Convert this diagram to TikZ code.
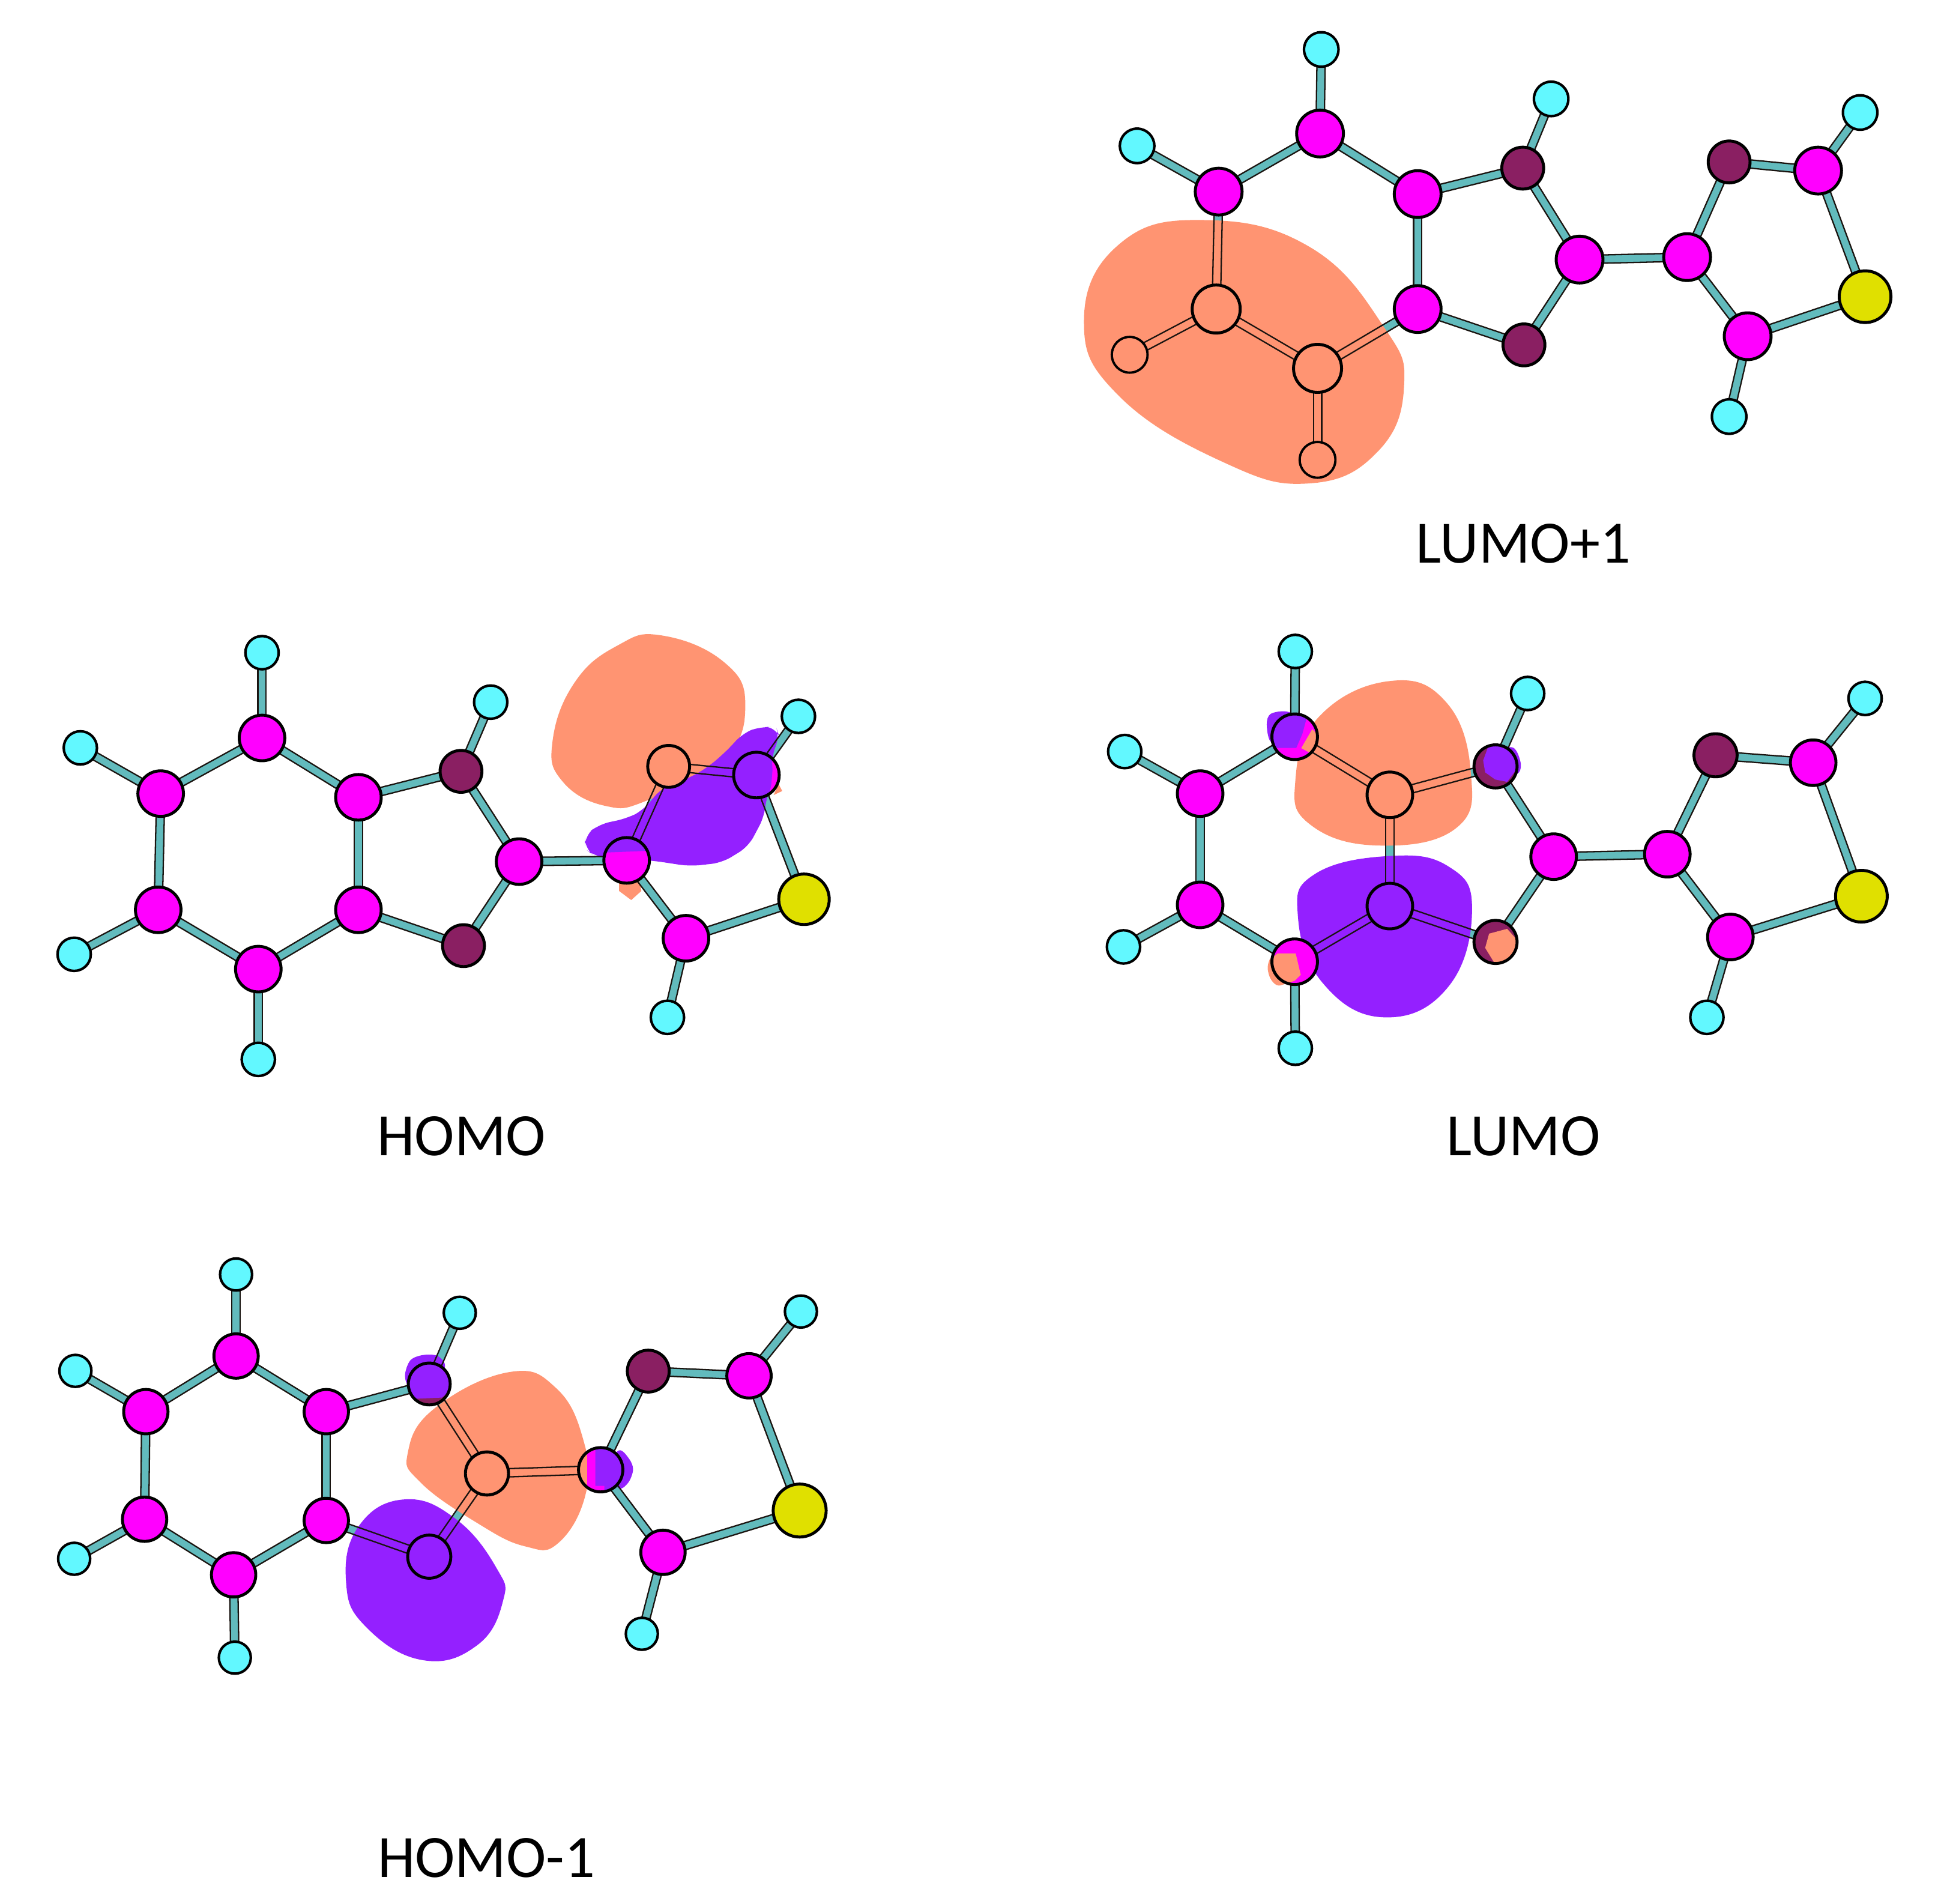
\documentclass[tikz,border=0pt]{standalone}
\usepackage{fontspec}
\setmainfont{Carlito}
\usetikzlibrary{calc}
\definecolor{Mag}{HTML}{FF00FF}
\definecolor{Hyd}{HTML}{62F8FF}
\definecolor{Drk}{HTML}{8A1F62}
\definecolor{Yel}{HTML}{E0E000}
\definecolor{Tea}{HTML}{62BBBD}
\definecolor{Org}{HTML}{FF9472}
\definecolor{Pur}{HTML}{9420FF}
\definecolor{Edg}{HTML}{1A1410}
\pgfdeclarelayer{bondlayer}
\pgfdeclarelayer{orblayer}
\pgfdeclarelayer{edgelayer}
\pgfsetlayers{bondlayer,orblayer,edgelayer,main}
\def\ux{0.58358pt}
\def\rC{18}\def\rH{13}\def\rD{17}\def\rS{21}\def\rE{18}
\tikzset{
  atomb/.style={circle,draw=black,line width=1.4pt,inner sep=0pt,outer sep=0pt},
  atmC/.style={atomb,fill=Mag,minimum size=2*\rC*\ux},
  atmH/.style={atomb,fill=Hyd,line width=1.2pt,minimum size=2*\rH*\ux},
  atmD/.style={atomb,fill=Drk,minimum size=2*\rD*\ux},
  atmS/.style={atomb,fill=Yel,minimum size=2*\rS*\ux},
  atmO/.style={atomb,fill=Org,minimum size=2*\rE*\ux},
  atmP/.style={atomb,fill=Pur,minimum size=2*\rE*\ux},
  atmHO/.style={atomb,fill=Org,line width=1.1pt,minimum size=2*\rH*\ux},
  bondfill/.style={Tea,line width=3.9pt},
  bondedge/.style={Edg,line width=0.65pt},
  lab/.style={font=\fontsize{28.5pt}{30pt}\selectfont,inner sep=0pt,text=black},
  blob/.style={smooth cycle,tension=0.55},
  lobe/.style={smooth cycle,tension=0.75}
}
\newcommand\bond[2]{%
  \begin{pgfonlayer}{bondlayer}\draw[bondfill] (#1.center)--(#2.center);\end{pgfonlayer}%
  \begin{pgfonlayer}{edgelayer}%
    \draw[bondedge] ($(#1.center)!1.95pt!90:(#2.center)$)--($(#2.center)!1.95pt!-90:(#1.center)$);%
    \draw[bondedge] ($(#1.center)!1.95pt!-90:(#2.center)$)--($(#2.center)!1.95pt!90:(#1.center)$);%
  \end{pgfonlayer}}
\newcommand\patch[2]{\fill[#1,shift={(path picture bounding box.center)}] #2;}
\begin{document}
\begin{tikzpicture}[x=0.020587cm,y=-0.020587cm]
\useasboundingbox (0,0) rectangle (1568,1540.3);

% ---------- LUMO+1 ----------
\def\rC{19}\def\rH{14}\def\rD{17}\def\rS{21}\def\rE{19.5}
\node[atmH] (lpH1) at (1069,40) {};
\node[atmH] (lpH2) at (920,118) {};
\node[atmH] (lpH3) at (1255,80) {};
\node[atmH] (lpH4) at (1505,91) {};
\node[atmH] (lpH5) at (1399,337) {};
\def\rH{14.5}
\node[atmHO] (lpE1) at (914,287) {};
\node[atmHO] (lpE2) at (1066,372) {};
\node[atmC] (lpA) at (1068,108) {};
\node[atmC] (lpB) at (986,155) {};
\node[atmC] (lpC) at (1147,157) {};
\node[atmC] (lpD) at (1147,250) {};
\node[atmO] (lpF) at (984,250) {};
\node[atmO] (lpG) at (1066,298) {};
\node[atmD] (lpP) at (1232,136) {};
\node[atmD] (lpQ) at (1233,279) {};
\node[atmC] (lpR) at (1278,210) {};
\node[atmC] (lpS) at (1365,208) {};
\node[atmC] (lpT) at (1471,138) {};
\node[atmC] (lpU) at (1414,272) {};
\node[atmD] (lpV) at (1399,131) {};
\node[atmS] (lpW) at (1509,240) {};
\foreach \a/\b in {lpH1/lpA,lpH2/lpB,lpA/lpB,lpA/lpC,lpC/lpD,lpB/lpF,lpF/lpE1,lpF/lpG,lpG/lpD,lpG/lpE2,lpC/lpP,lpD/lpQ,lpP/lpR,lpQ/lpR,lpR/lpS,lpS/lpV,lpS/lpU,lpV/lpT,lpT/lpH4,lpT/lpW,lpW/lpU,lpU/lpH5,lpP/lpH3}{\bond{\a}{\b}}
\begin{pgfonlayer}{orblayer}
\fill[Org] plot[lobe] coordinates {(973,178)(1060,200)(1120,265)(1136,312)(1115,365)(1060,391)(990,374)(905,320)(877,260)(905,198)};
\end{pgfonlayer}
\node[lab] (lpLabel) at (1232.5,440) {LUMO+1};

% ---------- HOMO ----------
\def\rC{18.5}\def\rH{13.5}\def\rD{17}\def\rS{20.5}\def\rE{17}
\node[atmH] (hoH1) at (212,528) {};
\node[atmH] (hoH2) at (65,605) {};
\node[atmH] (hoH3) at (397,568) {};
\node[atmH] (hoH4) at (646,579.5) {};
\node[atmH] (hoH5) at (540,823) {};
\node[atmH] (hoH6) at (60,772) {};
\node[atmH] (hoH7) at (209,857) {};
\node[atmC] (hoA) at (212,597) {};
\node[atmC] (hoB) at (130,642) {};
\node[atmC] (hoC) at (290,645) {};
\node[atmC] (hoD) at (128,736) {};
\node[atmC] (hoE) at (290,736) {};
\node[atmC] (hoF) at (209,784) {};
\node[atmD] (hoP) at (373,624) {};
\node[atmD] (hoQ) at (375,765) {};
\node[atmC] (hoR) at (420,697) {};
\node[atmC,path picture={\patch{Pur}{(-25,-25)--(25,-25)--(25,-8)--(-25,-6)--cycle}}] (hoS) at (507,696) {};
\node[atmO] (hoT) at (541,620) {};
\node[atmC,path picture={\patch{Pur}{(-25,-25)--(12,-25)--(13,-4)--(12,8)--(8,25)--(-25,25)--cycle}}] (hoU) at (612,627) {};
\node[atmC] (hoV) at (555,759) {};
\node[atmS] (hoW) at (650.5,727.5) {};
\foreach \a/\b in {hoH1/hoA,hoH2/hoB,hoH6/hoD,hoH7/hoF,hoA/hoB,hoA/hoC,hoB/hoD,hoC/hoE,hoD/hoF,hoE/hoF,hoC/hoP,hoE/hoQ,hoP/hoR,hoQ/hoR,hoP/hoH3,hoR/hoS,hoS/hoT,hoT/hoU,hoU/hoH4,hoU/hoW,hoW/hoV,hoV/hoS,hoV/hoH5}{\bond{\a}{\b}}
\begin{pgfonlayer}{orblayer}
\fill[Org] plot[lobe] coordinates {(535,514)(585,535)(603,570)(585,615)(525,647)(490,652)(455,632)(447,600)(465,552)(500,522)};
\fill[Org] (500.9,714.2)--(500.9,720.8)--(510.7,728.1)--(518.9,720.8)--(517.3,712.6)--cycle;
\fill[Org] (629.9,634.2)--(632.9,639.9)--(625.9,643.2)--cycle;
\fill[Pur,rounded corners=5pt] (615.2,587.7)--(628,588.5)--(631,597)--(624,611)--(627,630)--(620.1,644)--(618.5,660.3)--(605.5,684.8)--(584.2,697.9)--(558.1,700.8)--(528.7,696.3)--(481.3,693)--(473.2,686.5)--(473.2,675.9)--(484.6,666.9)--(507.5,662)--(520.5,655.4)--(535.2,637.5)--(558,629.3)--(574.4,619.5)--(590.7,604.8)--(600.5,593.4)--cycle;
\end{pgfonlayer}
\node[lab] (hoLabel) at (373.5,919) {HOMO};

% ---------- LUMO ----------
\def\rC{18.5}\def\rH{13.5}\def\rD{17.5}\def\rS{21}\def\rE{18.5}
\node[atmH] (luH1) at (1048,527) {};
\node[atmH] (luH2) at (910,608) {};
\node[atmH] (luH3) at (1236,561) {};
\node[atmH] (luH4) at (1509,565) {};
\node[atmH] (luH5) at (1381,823) {};
\node[atmH] (luH6) at (909,766) {};
\node[atmH] (luH7) at (1048,848) {};
\node[atmC,path picture={\patch{Pur}{(-20,-20)--(11,-20)--(6.2,-2.3)--(1.3,9)--(-20,9)--cycle}\patch{Org}{(14.2,-6.1)--(20,-0.4)--(15.9,15)--(5.3,9.2)--cycle}}] (luA) at (1047.5,596) {};
\node[atmC] (luB) at (971,642) {};
\node[atmC] (luC) at (971,732) {};
\node[atmC,path picture={\patch{Org}{(-20,-1.9)--(-13.8,-6.7)--(.8,-6.7)--(4.9,10.6)--(0,15.4)--(-13,20)--(-20,20)--cycle}}] (luD) at (1047.5,778) {};
\node[atmO] (luE) at (1124.5,643) {};
\node[atmP] (luF) at (1124.5,733) {};
\node[atmD,path picture={\patch{Pur}{(-10,-4.8)--(-5.2,-18)--(18,-18)--(18,1)--(9.4,12.5)--(-0.3,10.6)--(-8.4,4.8)--cycle}}] (luG) at (1210,620) {};
\node[atmD,path picture={\patch{Org}{(-8.4,4.8)--(-5.2,-6.7)--(9.4,-10.6)--(18,-1)--(18,12.5)--(-.3,18)--cycle}}] (luQ) at (1210,762) {};
\node[atmC] (luR) at (1257,693) {};
\node[atmC] (luS) at (1349,691) {};
\node[atmC] (luT) at (1467,617) {};
\node[atmC] (luU) at (1400,758) {};
\node[atmD] (luV) at (1388,611) {};
\node[atmS] (luW) at (1506,725) {};
\foreach \a/\b in {luH1/luA,luA/luB,luB/luC,luC/luD,luD/luH7,luH6/luC,luH2/luB,luA/luE,luE/luF,luF/luD,luE/luG,luF/luQ,luG/luH3,luG/luR,luQ/luR,luR/luS,luS/luV,luS/luU,luV/luT,luT/luH4,luT/luW,luW/luU,luU/luH5}{\bond{\a}{\b}}
\begin{pgfonlayer}{orblayer}
\fill[Org] plot[lobe] coordinates {(1124,551)(1170,568)(1190,625)(1178,670)(1115,684)(1060,667)(1048,632)(1067,580)};
\fill[Pur] plot[lobe] coordinates {(1124,692.5)(1172,701)(1191,735)(1172,798)(1120,823)(1070,795)(1050,740)(1064,707)};
\fill[Pur] plot[blob] coordinates {(1024.9,586)(1028.1,577.5)(1041,575.6)(1050,582)(1040,600)(1028.1,600)};
\fill[Pur] plot[blob] coordinates {(1222.4,604.4)(1227.3,608.2)(1230.5,618.8)(1227.3,626)(1212,625)(1212,608)};
\fill[Org] plot[blob] coordinates {(1025.7,782)(1030,774)(1045,780)(1045,792)(1034.6,797.3)(1028.1,792)};
\end{pgfonlayer}
\node[lab] (luLabel) at (1232.5,919) {LUMO};

% ---------- HOMO-1 ----------
\def\rC{18}\def\rH{13}\def\rD{17}\def\rS{21.5}\def\rE{17.5}
\node[atmH] (hmH1) at (191,1031) {};
\node[atmH] (hmH2) at (61,1109) {};
\node[atmH] (hmH3) at (372,1062) {};
\node[atmH] (hmH4) at (648,1061) {};
\node[atmH] (hmH5) at (519.3,1321.7) {};
\node[atmH] (hmH6) at (60,1261) {};
\node[atmH] (hmH7) at (190,1341) {};
\node[atmC] (hmA) at (191,1097) {};
\node[atmC] (hmB) at (118,1142) {};
\node[atmC] (hmC) at (264,1142) {};
\node[atmC] (hmD) at (117,1229) {};
\node[atmC] (hmE) at (264,1230) {};
\node[atmC] (hmF) at (189,1274) {};
\node[atmD,path picture={\patch{Pur}{(-20,-20)--(20,-20)--(15.3,7)--(10.2,11)--(-11.9,12)--(-20,7)--cycle}}] (hmP) at (347.3,1119.6) {};
\node[atmO] (hmQ) at (394,1192) {};
\node[atmP] (hmZ) at (347.3,1259.3) {};
\node[atmC,path picture={\patch{Org}{(-20,-20)--(-11,-20)--(-11,20)--(-20,20)--cycle}\patch{Pur}{(-4.3,-20)--(20,-20)--(20,20)--(3,20)--(3,13)--(-4.3,13)--cycle}}] (hmR) at (486,1189) {};
\node[atmC] (hmS) at (536.4,1255.8) {};
\node[atmC] (hmT) at (606,1113) {};
\node[atmD] (hmV) at (524.5,1109.2) {};
\node[atmS] (hmW) at (647,1222) {};
\foreach \a/\b in {hmH1/hmA,hmH2/hmB,hmA/hmB,hmA/hmC,hmB/hmD,hmC/hmE,hmD/hmF,hmE/hmF,hmD/hmH6,hmF/hmH7,hmC/hmP,hmP/hmH3,hmP/hmQ,hmQ/hmZ,hmZ/hmE,hmQ/hmR,hmR/hmV,hmR/hmS,hmV/hmT,hmT/hmH4,hmT/hmW,hmW/hmS,hmS/hmH5}{\bond{\a}{\b}}
\begin{pgfonlayer}{orblayer}
\fill[Org] plot[lobe] coordinates {(412,1110)(450,1123)(472,1165)(474,1208)(452,1248)(425,1251)(386,1232)(340,1199)(330,1175)(352,1139)};
\fill[Pur] plot[lobe] coordinates {(327,1213)(369,1229)(402,1269)(407,1295)(386,1331)(342,1343)(296,1316)(280,1280)(290,1235)};
\fill[Pur] plot[blob] coordinates {(327.7,1112.7)(332,1100.5)(342.2,1096.2)(354.1,1097)(360,1105.8)(350,1122)(332,1122)};
\fill[Pur] plot[blob] coordinates {(500.6,1173.4)(509.1,1180.3)(512.2,1189)(508.3,1199.4)(500.6,1203.8)(490,1189)};
\end{pgfonlayer}
\node[lab] (hmLabel) at (393.5,1503) {HOMO-1};
\end{tikzpicture}
\end{document}
